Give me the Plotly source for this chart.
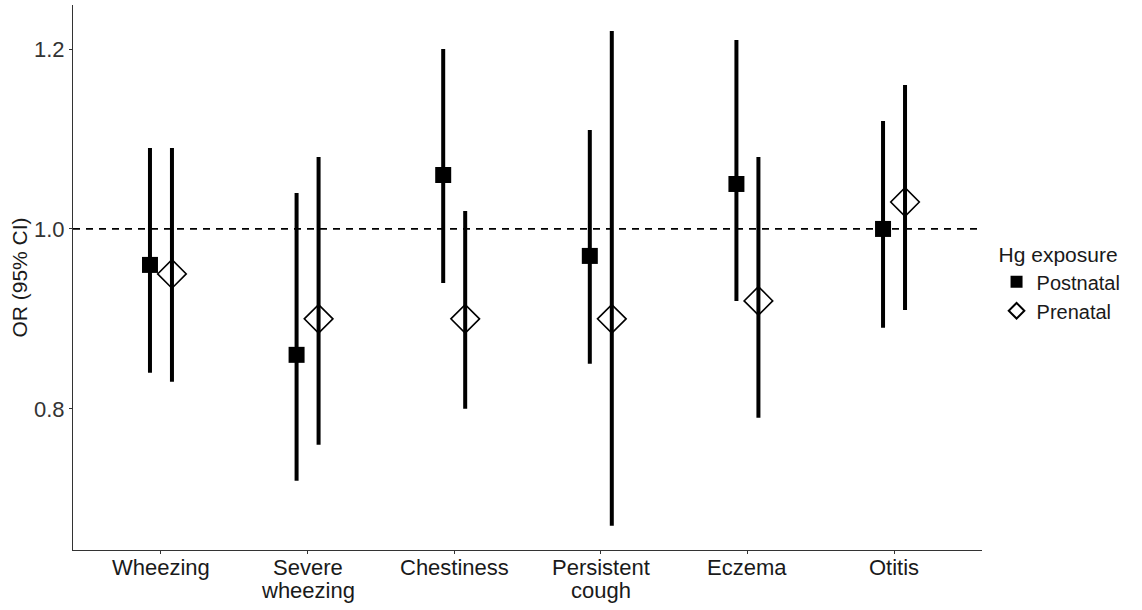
import plotly.graph_objects as go

categories = ["Wheezing", "Severe\nwheezing", "Chestiness", "Persistent\ncough", "Eczema", "Otitis"]
post_or = [0.96, 0.86, 1.06, 0.97, 1.05, 1.00]
post_lo = [0.84, 0.72, 0.94, 0.85, 0.92, 0.89]
post_hi = [1.09, 1.04, 1.20, 1.11, 1.21, 1.12]
pre_or = [0.95, 0.90, 0.90, 0.90, 0.92, 1.03]
pre_lo = [0.83, 0.76, 0.80, 0.67, 0.79, 0.91]
pre_hi = [1.09, 1.08, 1.02, 1.22, 1.08, 1.16]
y_ticks = [0.8, 1.0, 1.2]

pos = list(range(1, len(categories) + 1))
dodge = 0.075
txt = "#1a1a1a"

fig = go.Figure()

def add_series(name, vals, lo, hi, offset, marker):
    fig.add_trace(go.Scatter(
        x=[p + offset for p in pos], y=vals, mode="markers", name=name,
        marker=marker,
        error_y=dict(type="data", symmetric=False,
                     array=[h - v for h, v in zip(hi, vals)],
                     arrayminus=[v - l for v, l in zip(vals, lo)],
                     width=0, thickness=4, color="black"),
        cliponaxis=False,
    ))

fig.add_hline(y=1.0, line=dict(color="black", width=1.8, dash="7px,6px"), layer="below")

add_series("Postnatal", post_or, post_lo, post_hi, -dodge,
           dict(symbol="square", size=16, color="black", line=dict(width=0)))
add_series("Prenatal", pre_or, pre_lo, pre_hi, dodge,
           dict(symbol="diamond-open", size=22, color="black", line=dict(width=1.6, color="black")))

# x category labels (two-line labels with tight line spacing)
for p, cat in zip(pos, categories):
    for i, line in enumerate(cat.split("\n")):
        fig.add_annotation(x=p, xref="x", y=0, yref="paper", text=line,
                           showarrow=False, xanchor="center", yanchor="middle",
                           yshift=-17 - 23 * i, font=dict(size=22, color=txt))

fig.update_layout(
    width=1142, height=610,
    margin=dict(l=73, r=160, t=5, b=60, autoexpand=False),
    plot_bgcolor="white", paper_bgcolor="white",
    font=dict(family="Liberation Sans, Arial, sans-serif", size=22, color=txt),
    showlegend=True,
    legend=dict(
        title=dict(text="Hg exposure", font=dict(size=21, color=txt)),
        x=1.016, xanchor="left", y=0.49, yanchor="middle",
        font=dict(size=20, color=txt),
        tracegroupgap=0, itemsizing="constant", itemwidth=30,
        bgcolor="rgba(0,0,0,0)",
    ),
    xaxis=dict(
        range=[0.4, 6.6], tickvals=pos, showticklabels=False,
        showline=True, linecolor="#333333", linewidth=1.2,
        ticks="outside", ticklen=3, tickcolor="#333333",
        showgrid=False, zeroline=False, automargin=False,
    ),
    yaxis=dict(
        range=[0.643, 1.249], tickvals=y_ticks, tickformat=".1f",
        showline=True, linecolor="#333333", linewidth=1.2,
        ticks="outside", ticklen=3, tickcolor="#333333",
        showgrid=False, zeroline=False, automargin=False,
        title=dict(text="OR (95% CI)", font=dict(size=21, color=txt), standoff=0),
        tickfont=dict(size=22, color="#333333"),
    ),
)

fig.write_html("out.html", config={"displayModeBar": False},
               post_script="document.body.style.margin='0px';")
